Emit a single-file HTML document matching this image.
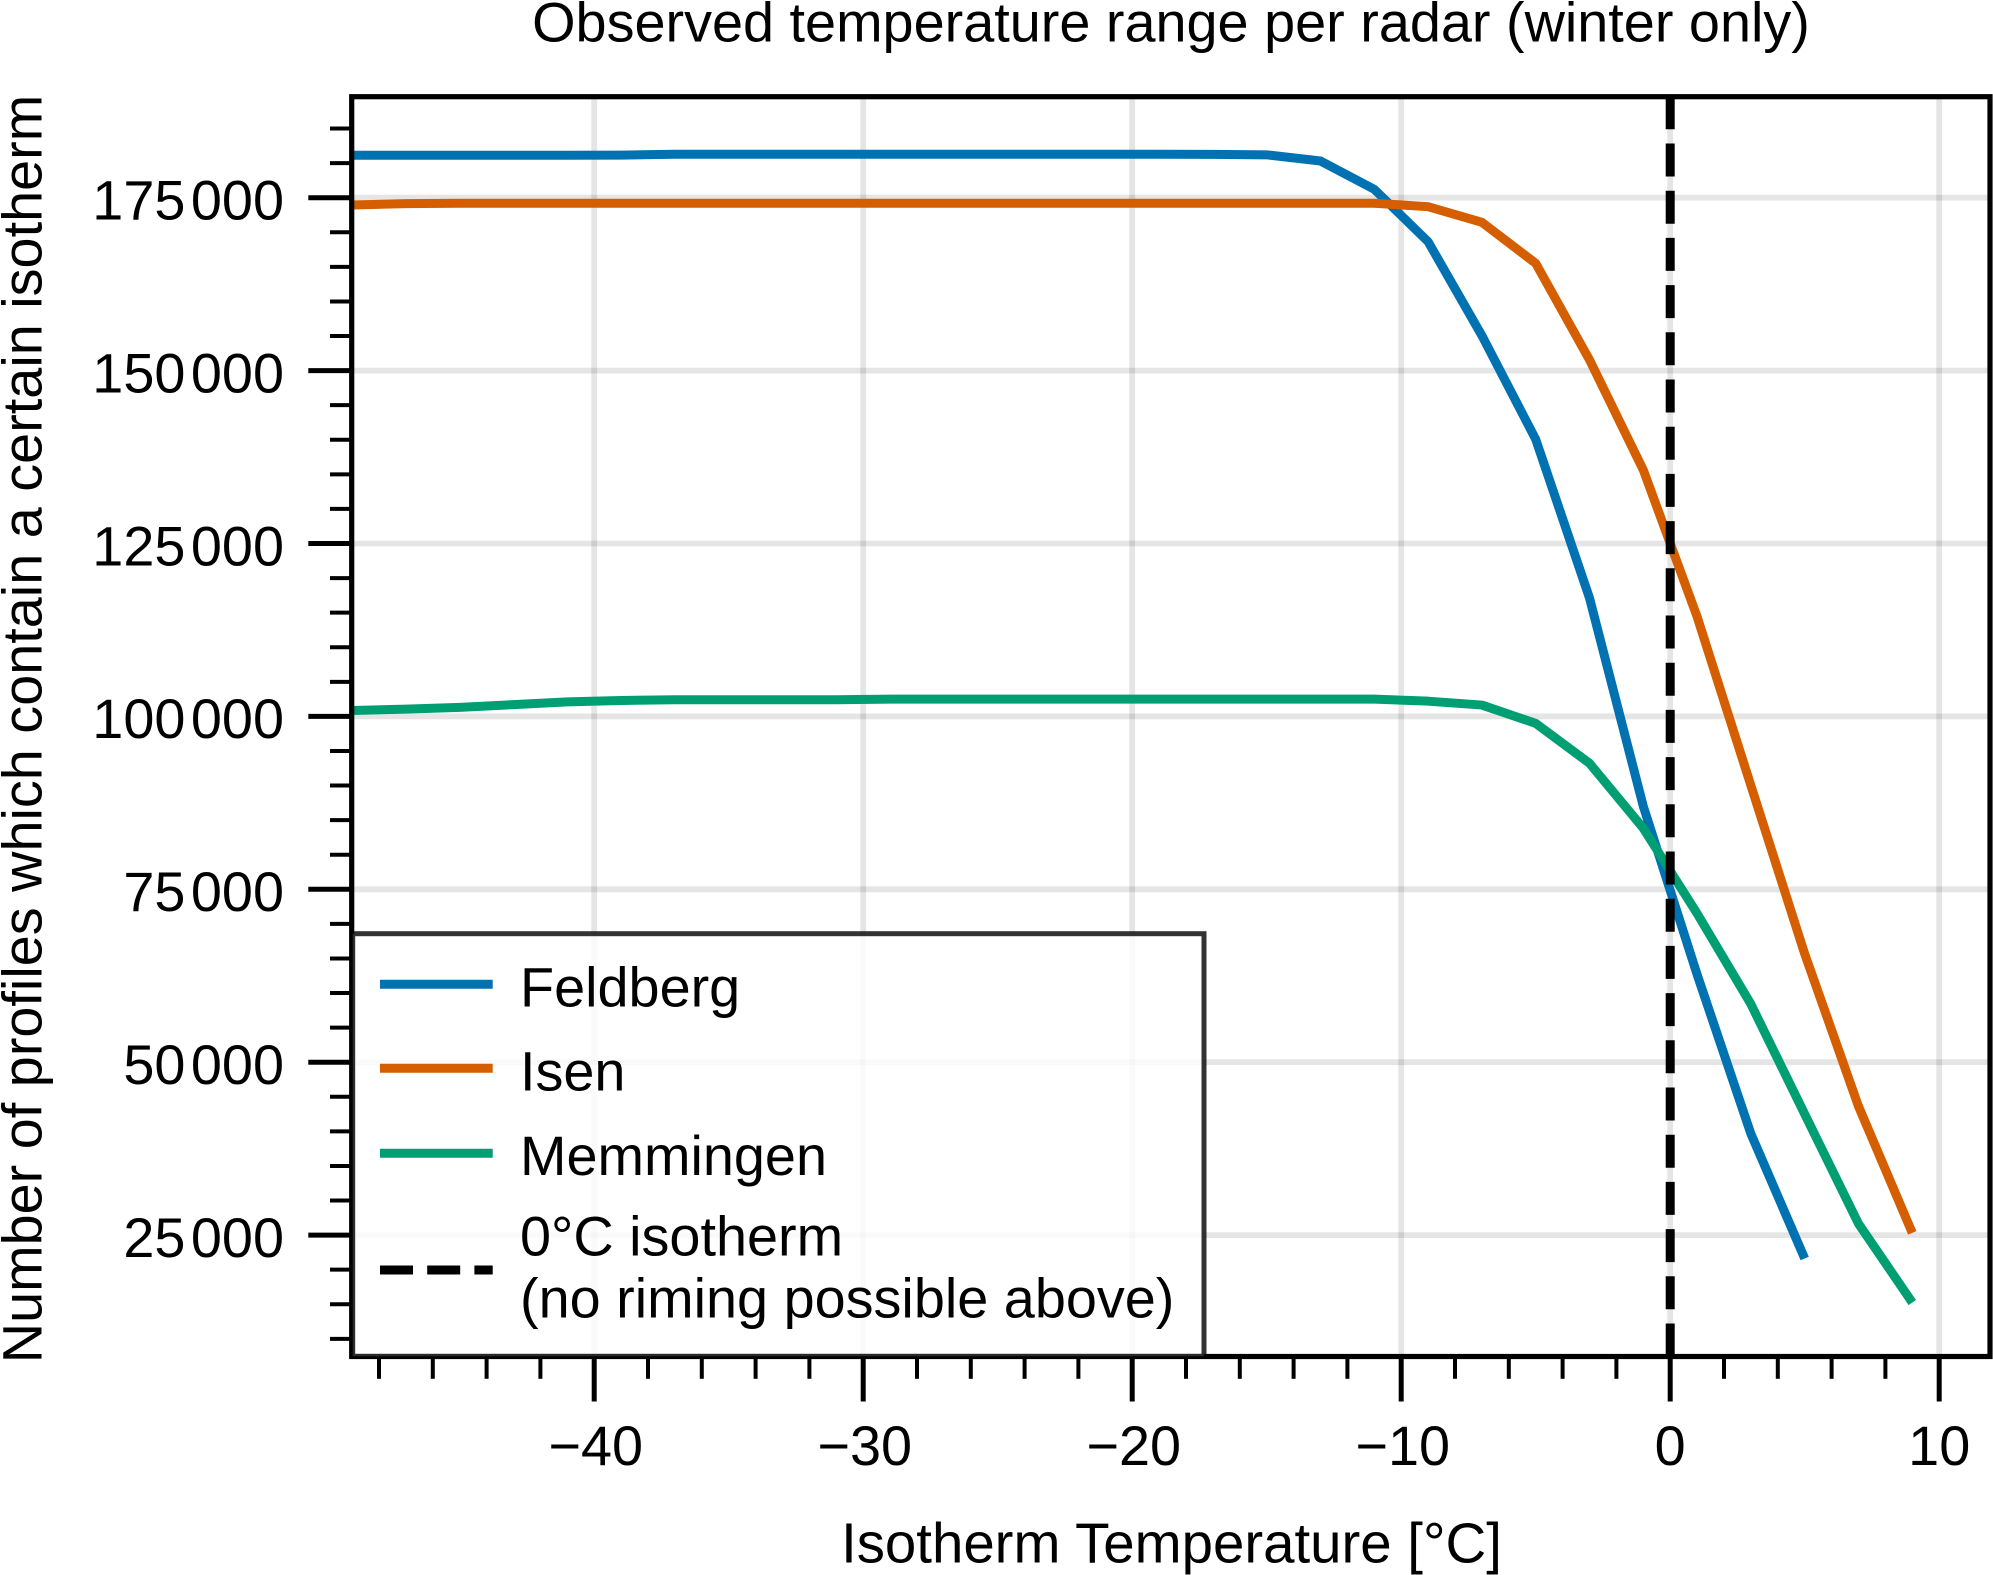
<!DOCTYPE html>
<html lang="en">
<head>
<meta charset="utf-8">
<title>Observed temperature range per radar (winter only)</title>
<style>
  html, body { margin: 0; padding: 0; background: #fff; width: 1993px; height: 1575px; overflow: hidden; }
  svg { display: block; }
  text { font-family: "Liberation Sans", "DejaVu Sans", sans-serif; font-size: 55.8px; fill: #000; }
  .y-tick-text { word-spacing: -10px; }
</style>
</head>
<body>
<svg id="chart" xmlns="http://www.w3.org/2000/svg" width="1993" height="1575" viewBox="0 0 1993 1575">
  <defs>
    <clipPath id="plot-clip"><rect x="351.7" y="96.7" width="1638.3" height="1259.8"/></clipPath>
  </defs>
  <rect x="0" y="0" width="1993" height="1575" fill="#fff"/>
  <g id="grid" clip-path="url(#plot-clip)"></g>
  <g id="ticks"></g>
  <g id="series" clip-path="url(#plot-clip)"></g>
  <g id="refline" clip-path="url(#plot-clip)"></g>
  <rect x="351.7" y="96.7" width="1638.3" height="1259.8" fill="none" stroke="#000" stroke-width="5.2"/>
  <g id="tick-labels"></g>

  <text x="1171" y="41.5" text-anchor="middle">Observed temperature range per radar (winter only)</text>
  <text x="1171.5" y="1562.3" text-anchor="middle" style="font-size:56.4px">Isotherm Temperature [°C]</text>
  <text transform="translate(41.7 729) rotate(-90)" text-anchor="middle">Number of profiles which contain a certain isotherm</text>

  <g>
    <rect x="352.7" y="933.7" width="851.3" height="422.6" fill="rgba(255,255,255,0.8)" stroke="rgba(0,0,0,0.8)" stroke-width="5"/>
    <line x1="380" x2="492.7" y1="984.3" y2="984.3" stroke="#0072B2" stroke-width="9"/>
    <text x="520" y="1006.7">Feldberg</text>
    <line x1="380" x2="492.7" y1="1068.3" y2="1068.3" stroke="#D55E00" stroke-width="9"/>
    <text x="520" y="1090.7">Isen</text>
    <line x1="380" x2="492.7" y1="1153.3" y2="1153.3" stroke="#009E73" stroke-width="9"/>
    <text x="520" y="1175">Memmingen</text>
    <line x1="380" x2="492.7" y1="1270" y2="1270" stroke="#000" stroke-width="9" stroke-dasharray="33 14.2"/>
    <text x="520" y="1255.5">0°C isotherm</text>
    <text x="520" y="1317.5">(no riming possible above)</text>
  </g>
</svg>
<script>
var temperatures = [-49, -47, -45, -43, -41, -39, -37, -35, -33, -31, -29, -27, -25, -23, -21, -19, -17, -15, -13, -11, -9, -7, -5, -3, -1, 1, 3, 5, 7, 9];
var feldbergValues = [181130, 181130, 181130, 181130, 181130, 181150, 181290, 181290, 181290, 181290, 181290, 181290, 181290, 181290, 181290, 181290, 181270, 181200, 180306, 176215, 168640, 155060, 140070, 117120, 87000, 62680, 39650, 21620];
var isenValues = [173950, 174150, 174200, 174200, 174200, 174200, 174200, 174200, 174200, 174200, 174200, 174200, 174200, 174200, 174200, 174200, 174200, 174200, 174200, 174200, 173700, 171440, 165510, 151560, 135630, 114420, 90000, 65670, 43620, 25320];
var memmingenValues = [100850, 101050, 101300, 101700, 102100, 102300, 102400, 102400, 102400, 102400, 102500, 102500, 102500, 102500, 102500, 102500, 102500, 102500, 102500, 102500, 102200, 101640, 98990, 93220, 83820, 71500, 58400, 42490, 26650, 15250];
var isothermTemps = [0];
var xTickValues = [-40, -30, -20, -10, 0, 10];
var xTickLabels = ["\u221240", "\u221230", "\u221220", "\u221210", "0", "10"];
var xMinorValues = [-48, -46, -44, -42, -38, -36, -34, -32, -28, -26, -24, -22, -18, -16, -14, -12, -8, -6, -4, -2, 2, 4, 6, 8];
var yTickValues = [25000, 50000, 75000, 100000, 125000, 150000, 175000];
var yTickLabels = ["25 000", "50 000", "75 000", "100 000", "125 000", "150 000", "175 000"];
var yMinorValues = [10000, 15000, 20000, 30000, 35000, 40000, 45000, 55000, 60000, 65000, 70000, 80000, 85000, 90000, 95000, 105000, 110000, 115000, 120000, 130000, 135000, 140000, 145000, 155000, 160000, 165000, 170000, 180000, 185000];

var SVG_NS = "http://www.w3.org/2000/svg";
var PLOT_LEFT = 351.7, PLOT_RIGHT = 1990, PLOT_TOP = 96.7, PLOT_BOTTOM = 1356.5;

function xScale(t) { return 1670.2 + t * 26.9; }
function yScale(v) { return 197.7 + (175000 - v) * (172.9 / 25000); }

function makeLine(parent, x1, y1, x2, y2, stroke, width) {
  var el = document.createElementNS(SVG_NS, "line");
  el.setAttribute("x1", x1);
  el.setAttribute("y1", y1);
  el.setAttribute("x2", x2);
  el.setAttribute("y2", y2);
  el.setAttribute("stroke", stroke);
  el.setAttribute("stroke-width", width);
  parent.appendChild(el);
  return el;
}

function makeLabel(parent, x, y, anchor, content) {
  var el = document.createElementNS(SVG_NS, "text");
  el.setAttribute("x", x);
  el.setAttribute("y", y);
  el.setAttribute("text-anchor", anchor);
  el.textContent = content;
  parent.appendChild(el);
  return el;
}

var gridGroup = document.getElementById("grid");
var tickGroup = document.getElementById("ticks");
var labelGroup = document.getElementById("tick-labels");
var seriesGroup = document.getElementById("series");
var refGroup = document.getElementById("refline");

xTickValues.forEach(function (t, i) {
  var x = xScale(t);
  var g = makeLine(gridGroup, x, PLOT_TOP, x, PLOT_BOTTOM, "#000", 5.8);
  g.setAttribute("stroke-opacity", "0.1");
  
  
  var tk = makeLine(tickGroup, x, PLOT_BOTTOM, x, 1401.5, "#000", 5);
  
  
  var lb = makeLabel(labelGroup, x + (t < 0 ? 1.5 : 0), 1465, "middle", xTickLabels[i]);
  
  
});

xMinorValues.forEach(function (t) {
  var x = xScale(t);
  var tk = makeLine(tickGroup, x, PLOT_BOTTOM, x, 1378.8, "#000", 4);
  
  
});

yTickValues.forEach(function (v, i) {
  var y = yScale(v);
  var g = makeLine(gridGroup, PLOT_LEFT, y, PLOT_RIGHT, y, "#000", 5.8);
  g.setAttribute("stroke-opacity", "0.1");
  
  
  var tk = makeLine(tickGroup, 308.3, y, PLOT_LEFT, y, "#000", 5);
  
  
  var lb = makeLabel(labelGroup, 284, y + 21.8, "end", yTickLabels[i]);
  lb.setAttribute("class", "y-tick-text");
  
  
});

yMinorValues.forEach(function (v) {
  var y = yScale(v);
  var tk = makeLine(tickGroup, 330, y, PLOT_LEFT, y, "#000", 4);
  
  
});

function drawSeries(values, color) {
  var pts = values.map(function (v, i) {
    return xScale(temperatures[i]).toFixed(2) + "," + yScale(v).toFixed(2);
  }).join(" ");
  var el = document.createElementNS(SVG_NS, "polyline");
  el.setAttribute("points", pts);
  el.setAttribute("fill", "none");
  el.setAttribute("stroke", color);
  el.setAttribute("stroke-width", "9");
  el.setAttribute("stroke-linejoin", "round");
  el.setAttribute("stroke-linecap", "butt");
  seriesGroup.appendChild(el);
  return el;
}

var feldbergLine = drawSeries(feldbergValues, "#0072B2");


var isenLine = drawSeries(isenValues, "#D55E00");


var memmingenLine = drawSeries(memmingenValues, "#009E73");



isothermTemps.forEach(function (t) {
  var x = xScale(t);
  var el = makeLine(refGroup, x, PLOT_BOTTOM, x, PLOT_TOP, "#000", 9);
  el.setAttribute("stroke-dasharray", "33 14.2");
  
  
});
</script>
</body>
</html>
